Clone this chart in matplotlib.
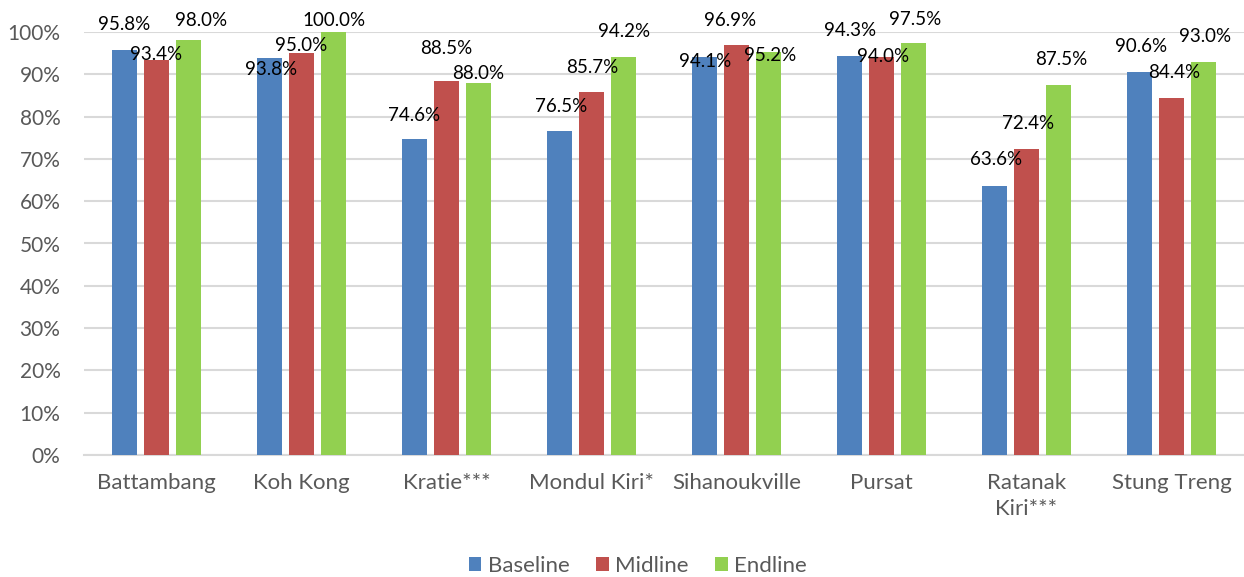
import matplotlib
matplotlib.use("Agg")
import matplotlib.pyplot as plt
import numpy as np

provinces = ["Battambang", "Koh Kong", "Kratie***", "Mondul Kiri*", "Sihanoukville",
             "Pursat", "Ratanak\nKiri***", "Stung Treng"]
baseline = [95.8, 93.8, 74.6, 76.5, 94.1, 94.3, 63.6, 90.6]
midline = [93.4, 95.0, 88.5, 85.7, 96.9, 94.0, 72.4, 84.4]
endline = [98.0, 100.0, 88.0, 94.2, 95.2, 97.5, 87.5, 93.0]

# label placement as in the source (pixels above bar top / sideways)
lab_dy = [[25, -11, 24, 25, -4.5, 26, 26, 25],
          [5, 8, 32, 25, 25, 1, 25, 25.5],
          [20, 12, 9, 25, -3, 22.6, 25, 25]]
lab_dx = [[0, 2, 0, 2, 1, 1, 1.5, 2],
          [0, 0, 0, 1, -6, 1.5, 2, 2.5],
          [13, 0, 0, 1, 2, 2, 2.5, 2]]

plt.rcParams['font.family'] = ['Lato', 'DejaVu Sans']
grey = "#595959"

fig = plt.figure(figsize=(12.44, 5.77), dpi=100)
ax = fig.add_axes([84 / 1244, 122 / 577, 1160 / 1244, 423 / 577])

x = np.arange(len(provinces))
w = 0.172
step = 0.2207
series = [("Baseline", baseline, "#4F81BD"),
          ("Midline", midline, "#C0504D"),
          ("Endline", endline, "#92D050")]

for k, (name, vals, col) in enumerate(series):
    xs = x + (k - 1) * step
    ax.bar(xs, vals, width=w, color=col, label=name, zorder=3)
    for i, v in enumerate(vals):
        ax.annotate(f"{v:.1f}%", (xs[i], v), xytext=(lab_dx[k][i], lab_dy[k][i]),
                    textcoords="offset pixels", ha="center", va="center",
                    fontsize=13.5, color="black", zorder=5, annotation_clip=False)

ax.set_xlim(-0.5, len(provinces) - 0.5)
ax.set_ylim(0, 100)
ax.set_yticks(np.arange(0, 101, 10))
ax.set_yticklabels([f"{t}%" for t in range(0, 101, 10)])
ax.set_xticks(x)
ax.set_xticklabels(provinces, linespacing=1.35)
ax.tick_params(axis="both", length=0, labelcolor=grey)
ax.tick_params(axis="y", pad=17, labelsize=15)
ax.tick_params(axis="x", pad=13, labelsize=16)
ax.yaxis.grid(True, color="#D9D9D9", linewidth=1.5, zorder=0)
for s in ["top", "right", "left"]:
    ax.spines[s].set_visible(False)
ax.spines["bottom"].set_color("#D9D9D9")
ax.spines["bottom"].set_linewidth(1.5)

leg = fig.legend(loc="center", bbox_to_anchor=(638 / 1244, 1 - 566 / 577), ncol=3,
                 frameon=False, fontsize=16, handlelength=0.55, handleheight=0.55,
                 handletextpad=0.3, columnspacing=1.2)
for t in leg.get_texts():
    t.set_color(grey)

fig.savefig("out.png", dpi=100)
